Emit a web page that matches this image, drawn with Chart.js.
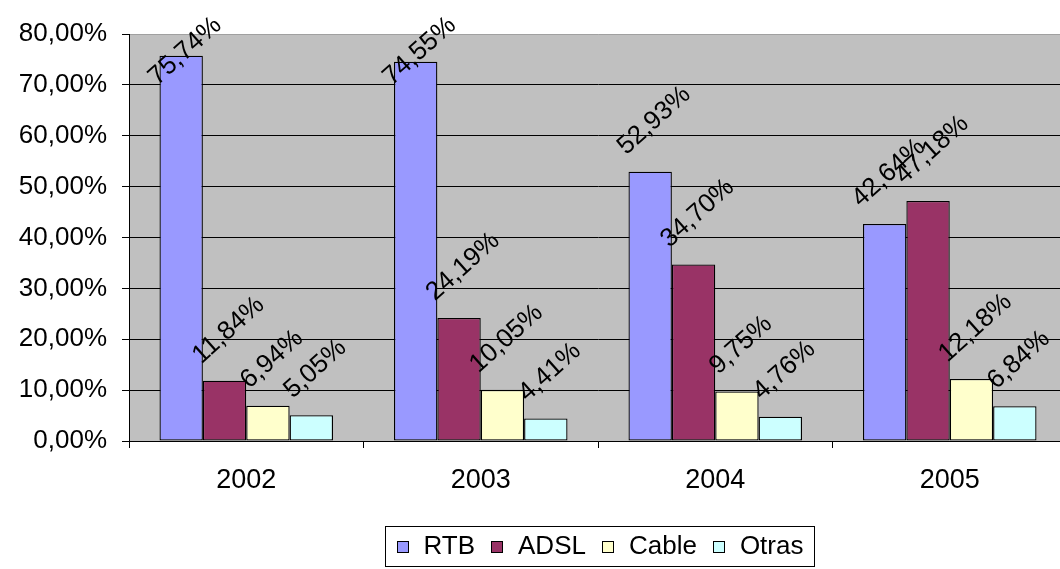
<!DOCTYPE html>
<html>
<head>
<meta charset="utf-8">
<script src="https://cdn.jsdelivr.net/npm/chart.js@4.4.1/dist/chart.umd.min.js"></script>
<style>
  html, body { margin: 0; padding: 0; background: #fff; overflow: hidden; }
  canvas { display: block; }
</style>
</head>
<body>
<!-- el área de trazado sigue un poco más allá del borde derecho -->
<canvas id="accesos" width="1067" height="569"></canvas>
<script>
// Tipos de acceso a Internet por año (%)
const anios = ['2002', '2003', '2004', '2005'];
const rtb   = [75.74, 74.55, 52.93, 42.64];
const adsl  = [11.84, 24.19, 34.70, 47.18];
const cable = [6.94, 10.05, 9.75, 12.18];
const otras = [5.05, 4.41, 4.76, 6.84];
const ticksY = [0, 10, 20, 30, 40, 50, 60, 70, 80];

const FUENTE = "'Liberation Sans', Arial, sans-serif";

// formato español: 75,74%
function pct(v) {
  return v.toFixed(2).replace('.', ',') + '%';
}

// fondo blanco + área de trazado gris
const fondo = {
  id: 'fondo',
  beforeDraw(chart) {
    const { ctx, chartArea: a } = chart;
    ctx.save();
    ctx.fillStyle = '#fff';
    ctx.fillRect(0, 0, chart.width, chart.height);
    ctx.fillStyle = '#c0c0c0';
    ctx.fillRect(a.left, a.top, a.right - a.left, a.bottom - a.top);
    ctx.restore();
  }
};

// etiquetas de valor giradas encima de cada barra
const etiquetas = {
  id: 'etiquetas',
  afterDatasetsDraw(chart) {
    const ctx = chart.ctx;
    const ang = -42 * Math.PI / 180;
    const fs = 26;
    ctx.save();
    ctx.font = fs + 'px ' + FUENTE;
    ctx.fillStyle = '#000';
    ctx.textAlign = 'center';
    ctx.textBaseline = 'middle';
    chart.data.datasets.forEach((ds, i) => {
      chart.getDatasetMeta(i).data.forEach((bar, j) => {
        const txt = pct(ds.data[j]);
        const w = ctx.measureText(txt).width;
        const h = (w * Math.sin(-ang) + fs * Math.cos(ang)) / 2;
        let cy = bar.y - h - 12;
        if (cy < 12 + h) cy = 12 + h;
        ctx.save();
        ctx.translate(bar.x + 4, cy);
        ctx.rotate(ang);
        ctx.fillText(txt, 0, 0);
        ctx.restore();
      });
    });
    ctx.restore();
  }
};

// leyenda con recuadro bajo el eje
const leyenda = {
  id: 'leyenda',
  afterDraw(chart) {
    const ctx = chart.ctx;
    const fs = 26;
    ctx.save();
    ctx.font = fs + 'px ' + FUENTE;
    ctx.textBaseline = 'middle';
    const items = chart.data.datasets.map(ds => ({
      label: ds.label, color: ds.backgroundColor, w: ctx.measureText(ds.label).width
    }));
    const caja = 12, sep = 15, hueco = 16, margen = 11;
    let total = margen * 2;
    items.forEach((it, k) => { total += caja + sep + it.w + (k < items.length - 1 ? hueco : 0); });
    const cx = 599;
    const top = 526, alto = 40;
    let x = Math.round(cx - total / 2) + 0.5;
    ctx.strokeStyle = '#000';
    ctx.lineWidth = 1;
    ctx.strokeRect(x, top + 0.5, Math.round(total), alto);
    x += margen;
    const my = top + alto / 2 + 1;
    items.forEach(it => {
      const bx = Math.round(x);
      ctx.fillStyle = it.color;
      ctx.fillRect(bx, my - caja / 2, caja, caja);
      ctx.strokeRect(bx + 0.5, my - caja / 2 + 0.5, caja - 1, caja - 1);
      x += caja + sep;
      ctx.fillStyle = '#000';
      ctx.fillText(it.label, x, my);
      x += it.w + hueco;
    });
    ctx.restore();
  }
};

const serie = (label, data, color) => ({
  label, data,
  backgroundColor: color,
  borderColor: '#000',
  borderWidth: 1.3,
  borderSkipped: false,
  categoryPercentage: 0.74,
  barPercentage: 1
});

new Chart(document.getElementById('accesos'), {
  type: 'bar',
  data: {
    labels: anios,
    datasets: [
      serie('RTB', rtb, '#9999ff'),
      serie('ADSL', adsl, '#993366'),
      serie('Cable', cable, '#ffffcc'),
      serie('Otras', otras, '#ccffff')
    ]
  },
  options: {
    responsive: false,
    animation: false,
    layout: { padding: { top: 34, right: 0, bottom: 43, left: 0 } },
    plugins: {
      legend: { display: false },
      tooltip: { enabled: false }
    },
    scales: {
      x: {
        afterFit: s => { s.height = 85; },
        grid: { offset: true, drawOnChartArea: false, color: '#000', tickLength: 7 },
        border: { color: '#000', width: 1 },
        ticks: { color: '#000', font: { family: FUENTE, size: 27 }, padding: 16 }
      },
      y: {
        min: 0,
        max: 80,
        afterFit: s => { s.width = 129; },
        afterBuildTicks: s => { s.ticks = ticksY.map(v => ({ value: v })); },
        grid: {
          color: c => (c.tick && c.tick.value === 80 ? '#a0a0a0' : '#000'),
          tickColor: '#000',
          tickLength: 7
        },
        border: { color: '#000', width: 1 },
        ticks: {
          color: '#000',
          font: { family: FUENTE, size: 26 },
          padding: 15,
          callback: v => pct(v)
        }
      }
    }
  },
  plugins: [fondo, etiquetas, leyenda]
});
</script>
</body>
</html>
